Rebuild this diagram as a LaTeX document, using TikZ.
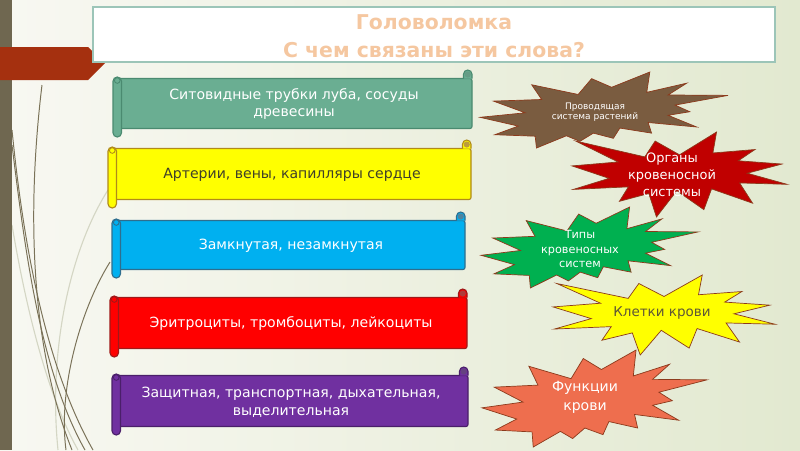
\documentclass[tikz,border=0pt]{standalone}
\usepackage{fontspec}
\setmainfont{DejaVu Sans}

\definecolor{bgpale}{HTML}{F8F8F2}
\definecolor{bggreen}{HTML}{E2E9D0}
\definecolor{wispbar}{HTML}{6F6750}
\definecolor{wisptab}{HTML}{A5300F}
\definecolor{wispline}{HTML}{7A7258}
\definecolor{wispfaint}{HTML}{D4D6C4}
\definecolor{titleedge}{HTML}{9CC5B8}
\definecolor{titletext}{HTML}{F5C7A0}
\definecolor{scrteal}{HTML}{6AAE92}
\definecolor{scrtealedge}{HTML}{4A8A70}
\definecolor{scryellow}{HTML}{FFFF00}
\definecolor{scryellowedge}{HTML}{B08A1A}
\definecolor{scrblue}{HTML}{00B0F0}
\definecolor{scrblueedge}{HTML}{2E6E8E}
\definecolor{scrred}{HTML}{FF0000}
\definecolor{scrrededge}{HTML}{A01818}
\definecolor{scrpurple}{HTML}{7030A0}
\definecolor{scrpurpleedge}{HTML}{4A1F6A}
\definecolor{burstedge}{HTML}{8C3A1C}
\definecolor{burstbrown}{HTML}{7A5C40}
\definecolor{burstred}{HTML}{C00000}
\definecolor{burstgreen}{HTML}{00B050}
\definecolor{burstyellow}{HTML}{FFFF00}
\definecolor{burstorange}{HTML}{EE6E4E}
\definecolor{darktext}{HTML}{3F3F2A}
\definecolor{yellowtext}{HTML}{5E5636}

\tikzset{
  scrolltext/.style={align=center, text=white, font=\fontsize{10}{12.5}\selectfont},
  scrollline/.style={line width=0.8pt},
  burstline/.style={draw=burstedge, line width=0.5pt},
  bursttext/.style={align=center, text=white},
}

\def\sealone{(10.800,5.800) -- (14.522,0) -- (14.155,5.325) -- (18.380,4.457) -- (16.702,7.315) -- (21.097,8.137) -- (17.607,10.475) -- (21.600,13.290) -- (16.837,12.942) -- (18.145,18.095) -- (14.020,14.457) -- (13.247,19.737) -- (10.532,14.935) -- (8.485,21.600) -- (7.715,15.627) -- (4.762,17.617) -- (5.667,13.937) -- (0.135,14.587) -- (3.722,11.775) -- (0,8.615) -- (4.627,7.617) -- (0.370,2.295) -- (7.312,6.320) -- (8.352,2.295) -- cycle}
\def\sealtwo{(11.462,4.342) -- (14.790,0) -- (14.525,5.777) -- (18.007,3.172) -- (16.380,6.532) -- (21.600,6.645) -- (16.985,9.402) -- (18.270,11.290) -- (16.380,12.310) -- (18.877,15.632) -- (14.640,14.350) -- (14.942,17.370) -- (12.180,15.935) -- (11.612,18.842) -- (9.872,17.370) -- (8.700,19.712) -- (7.527,18.125) -- (4.917,21.600) -- (4.805,18.240) -- (1.285,17.825) -- (3.330,15.370) -- (0,12.877) -- (3.935,11.592) -- (1.172,8.270) -- (5.372,7.817) -- (4.502,3.625) -- (8.550,6.382) -- (9.722,1.887) -- cycle}

\newcommand{\scrollbox}[6]{%
  \filldraw[scrollline, fill=#1, draw=#2, rounded corners=1.5pt]
    (#3+4,#4+8.5) rectangle (#5,#6-8.5);
  \filldraw[scrollline, fill=#1, draw=#2]
    (#5-8.5,#4+8.5) -- (#5-8.5,#4+4.25) arc[start angle=180, end angle=0, radius=3.02pt] -- (#5,#4+8.5);
  \fill[#2!85] (#5-4.25,#4+4.5) circle[radius=2.2pt];
  \filldraw[scrollline, fill=#1, draw=#2, rounded corners=3pt]
    (#3,#4+7) rectangle (#3+8.5,#6);
  \draw[#2, line width=0.6pt] (#3+4.25,#4+10.5) circle[radius=2pt];
}
\newcommand{\burst}[6]{%
  \filldraw[burstline, fill=#2, shift={(#3,#4)}, xscale=#5/21.6, yscale=#6/21.6] #1;
}

\begin{document}
\begin{tikzpicture}[x=0.025cm,y=-0.025cm]
  \useasboundingbox (0,0) rectangle (800,450);
  \shade[left color=bgpale, right color=bggreen] (0,0) rectangle (800,450);
  \draw[wispfaint, line width=0.8pt] (108,190) .. controls (70,250) and (48,350) .. (58,450);
  \draw[wispfaint, line width=0.8pt] (12,225) .. controls (28,320) and (50,400) .. (78,450);
  \draw[wispline, line width=0.7pt] (42,85) .. controls (28,200) and (28,340) .. (72,450);
  \draw[wispline, line width=0.7pt] (12,130) .. controls (22,230) and (42,360) .. (93,450);
  \draw[wispline, line width=0.7pt] (12,145) .. controls (25,250) and (40,370) .. (85,450);
  \draw[wispline, line width=0.7pt] (110,262) .. controls (80,310) and (58,390) .. (66,450);
  \fill[wispbar] (0,0) rectangle (12,450);
  \fill[wisptab] (0,47) -- (88,47) -- (105,63) -- (88,80) -- (0,80) -- cycle;

  \filldraw[fill=white, draw=titleedge, line width=0.8pt] (93,7) rectangle (775,62);
  \node[text=titletext, font=\bfseries\fontsize{14.5}{20}\selectfont, align=center] (title) at (434,36)
    {Головоломка\\С чем связаны эти слова?};

  \scrollbox{scrteal}{scrtealedge}{113}{70}{472}{137}
  \scrollbox{scryellow}{scryellowedge}{108}{140}{471}{208}
  \scrollbox{scrblue}{scrblueedge}{112}{212}{465}{278}
  \scrollbox{scrred}{scrrededge}{110}{289}{467}{357}
  \scrollbox{scrpurple}{scrpurpleedge}{112}{367}{468}{435}
  \node[scrolltext] (sieve) at (294,104) {Ситовидные трубки луба, сосуды\\древесины};
  \node[scrolltext, text=darktext] (vessels) at (292,175) {Артерии, вены, капилляры сердце};
  \node[scrolltext] (closed) at (291,246) {Замкнутая, незамкнутая};
  \node[scrolltext] (cells) at (291,323) {Эритроциты, тромбоциты, лейкоциты};
  \node[scrolltext] (roles) at (291,402) {Защитная, транспортная, дыхательная,\\выделительная};

  \burst{\sealtwo}{burstbrown}{480}{72}{248}{76}
  \burst{\sealone}{burstred}{572}{132}{215}{85}
  \burst{\sealtwo}{burstgreen}{481}{207}{217}{81}
  \burst{\sealone}{burstyellow}{553}{275}{222}{80}
  \burst{\sealtwo}{burstorange}{482}{350}{225}{97}
  \node[bursttext, font=\fontsize{6.4}{7.5}\selectfont] (conduct) at (595,112) {Проводящая\\система растений};
  \node[bursttext, font=\fontsize{9.2}{12}\selectfont] (organs) at (672,175) {Органы\\кровеносной\\системы};
  \node[bursttext, font=\fontsize{8}{10}\selectfont] (kinds) at (580,249) {Типы\\кровеносных\\систем};
  \node[bursttext, text=yellowtext, font=\fontsize{9.6}{12}\selectfont] (bloodcells) at (662,313) {Клетки крови};
  \node[bursttext, font=\fontsize{10}{13.5}\selectfont] (bloodroles) at (585,397) {Функции\\крови};
\end{tikzpicture}
\end{document}
